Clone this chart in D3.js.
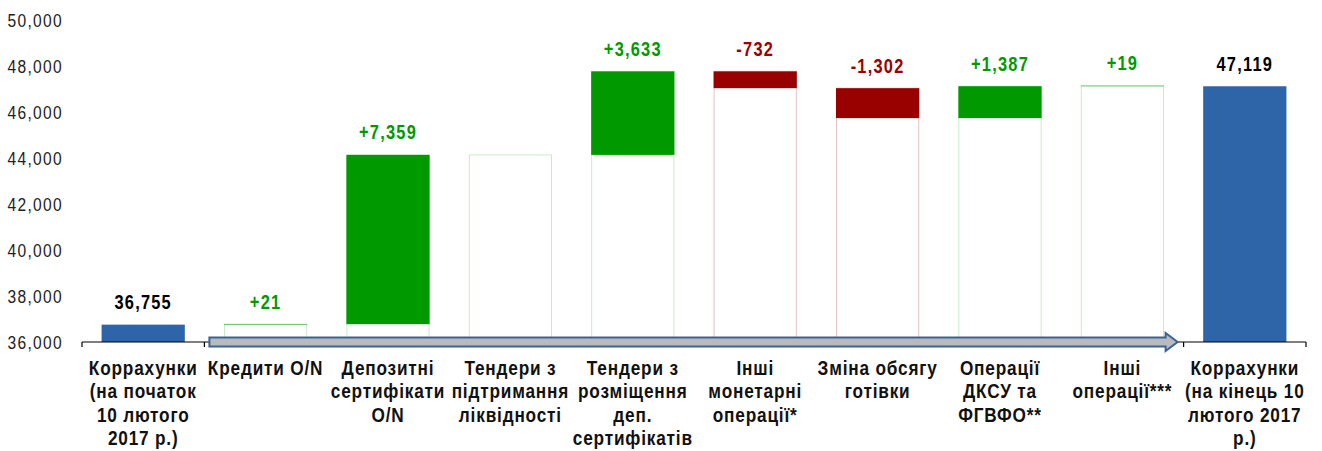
<!DOCTYPE html>
<html>
<head>
<meta charset="utf-8">
<script src="https://cdn.jsdelivr.net/npm/d3@7"></script>
<style>
  body { margin: 0; background: #fff; }
  text { font-family: "Liberation Sans", Arial, sans-serif; }
</style>
</head>
<body>
<div id="chart"></div>
<script>
// categories (line-broken as in the picture)
var categories = [
    ["Коррахунки", "(на початок", "10 лютого", "2017 р.)"],
    ["Кредити O/N"],
    ["Депозитні", "сертифікати", "O/N"],
    ["Тендери з", "підтримання", "ліквідності"],
    ["Тендери з", "розміщення", "деп.", "сертифікатів"],
    ["Інші", "монетарні", "операції*"],
    ["Зміна обсягу", "готівки"],
    ["Операції", "ДКСУ та", "ФГВФО**"],
    ["Інші", "операції***"],
    ["Коррахунки", "(на кінець  10", "лютого 2017", "р.)"]
];
var values = [36755, 21, 7359, 0, 3633, -732, -1302, 1387, 19, 47119];
var isTotal = [true, false, false, false, false, false, false, false, false, true];
var valueLabels = ["36,755", "+21", "+7,359", "", "+3,633", "-732", "-1,302", "+1,387", "+19", "47,119"];
var yTicks = [36000, 38000, 40000, 42000, 44000, 46000, 48000, 50000];

var chart_width = 1322;
var chart_height = 451;
var margin = {left: 82, right: 16, top: 20, bottom: 109};
var narrow = 0.82; // squeeze Liberation Sans to look like a narrow face

var svg = d3.select("#chart")
        .append("svg")
        .attr("width", chart_width)
        .attr("height", chart_height);

var x = d3.scaleBand()
        .domain(d3.range(categories.length))
        .range([margin.left, chart_width - margin.right])
        .paddingInner(0.32)
        .paddingOuter(0.16);

var y = d3.scaleLinear()
        .domain([36000, 50000])
        .range([chart_height - margin.bottom, margin.top]);

// build waterfall rows
var rows = [];
var running = 0;
values.forEach(function (v, i) {
    if (isTotal[i]) {
        running = v;
        rows.push({i: i, lo: 36000, hi: v, kind: "total"});
    } else {
        var lo = v >= 0 ? running : running + v;
        var hi = v >= 0 ? running + v : running;
        rows.push({i: i, lo: lo, hi: hi, kind: v >= 0 ? "up" : "down"});
        running += v;
    }
});

var colors = {total: "#2e64a8", up: "#009900", down: "#990000"};
var ghostStroke = {up: "#c9ebc9", down: "#e5c3c3"};
var labelColor = {total: "#000000", up: "#009900", down: "#990000"};

// text helper: squeezed horizontally around its anchor point
function squeezed(px, py) {
    return svg.append("g")
            .attr("transform", "translate(" + px + "," + py + ") scale(" + narrow + ",1)")
            .append("text")
            .attr("x", 0)
            .attr("y", 0);
}

// invisible base bars (white with faint outline)
svg.selectAll("rect.base")
        .data(rows.filter(function (d) { return d.kind != "total"; }))
        .enter()
        .append("rect")
        .attr("class", "base")
        .attr("x", function (d) { return x(d.i) + 0.5; })
        .attr("width", x.bandwidth() - 1)
        .attr("y", function (d) { return y(d.hi); })
        .attr("height", function (d) { return y(36000) - y(d.hi); })
        .attr("fill", "#ffffff")
        .attr("stroke", function (d) { return ghostStroke[d.kind]; })
        .attr("stroke-width", 1);

// visible bars
svg.selectAll("rect.bar")
        .data(rows)
        .enter()
        .append("rect")
        .attr("class", "bar")
        .attr("x", function (d) { return x(d.i); })
        .attr("width", x.bandwidth())
        .attr("y", function (d) { return y(d.hi); })
        .attr("height", function (d) { return y(d.lo) - y(d.hi); })
        .attr("fill", function (d) { return colors[d.kind]; });

// value labels
rows.forEach(function (d) {
    if (valueLabels[d.i] == "") return;
    squeezed(x(d.i) + x.bandwidth() / 2, y(d.hi) - 15.5)
            .attr("text-anchor", "middle")
            .attr("fill", labelColor[d.kind])
            .style("font-size", "20px")
            .style("font-weight", "bold")
            .style("letter-spacing", "1.5px")
            .text(valueLabels[d.i]);
});

// y axis labels
var fmt = d3.format(",");
yTicks.forEach(function (t) {
    squeezed(63, y(t) + 7)
            .attr("text-anchor", "end")
            .attr("fill", "#222")
            .style("font-size", "19px")
            .style("letter-spacing", "1.6px")
            .text(fmt(t));
});

// x axis with ticks at category edges
var step = x.step();
var x0 = x(0) - (step - x.bandwidth()) / 2;
var edgePos = d3.range(categories.length + 1).map(function (k) { return x0 + k * step; });
var axisY = y(36000);
svg.append("line")
        .attr("x1", edgePos[0]).attr("x2", edgePos[edgePos.length - 1])
        .attr("y1", axisY).attr("y2", axisY)
        .attr("stroke", "#000").attr("stroke-width", 1.2);
svg.selectAll("line.tick")
        .data(edgePos)
        .enter()
        .append("line")
        .attr("class", "tick")
        .attr("x1", function (d) { return d; }).attr("x2", function (d) { return d; })
        .attr("y1", axisY).attr("y2", axisY + 5)
        .attr("stroke", "#000").attr("stroke-width", 1.2);

// flow arrow across the movement categories
var ax1 = edgePos[1] + 5, ax2 = edgePos[9] - 6;
var bodyH = 9, headH = 18, headL = 12;
var arrow = d3.path();
arrow.moveTo(ax1, axisY - bodyH / 2);
arrow.lineTo(ax2 - headL, axisY - bodyH / 2);
arrow.lineTo(ax2 - headL, axisY - headH / 2);
arrow.lineTo(ax2, axisY);
arrow.lineTo(ax2 - headL, axisY + headH / 2);
arrow.lineTo(ax2 - headL, axisY + bodyH / 2);
arrow.lineTo(ax1, axisY + bodyH / 2);
arrow.closePath();
svg.append("path")
        .attr("d", arrow.toString())
        .attr("fill", "#b7bbbf")
        .attr("stroke", "#3d6396")
        .attr("stroke-width", 2);

// category labels
categories.forEach(function (lines, i) {
    var cx = x(i) + x.bandwidth() / 2;
    var t = squeezed(cx, axisY + 33)
            .attr("text-anchor", "middle")
            .attr("fill", "#111")
            .style("font-size", "21px")
            .style("font-weight", "bold")
            .style("letter-spacing", "1px");
    lines.forEach(function (line, k) {
        t.append("tspan")
                .attr("x", 0)
                .attr("dy", k == 0 ? 0 : 23.3)
                .text(line);
    });
});
</script>
</body>
</html>
